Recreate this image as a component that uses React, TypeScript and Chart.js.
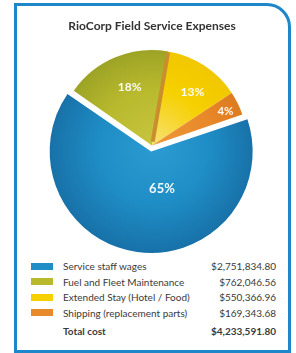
import React, { useEffect, useRef } from "react";
import { Chart, registerables } from "chart.js";

Chart.register(...registerables);

const chartTitle = "RioCorp Field Service Expenses";
const categories = [
  "Service staff wages",
  "Fuel and Fleet Maintenance",
  "Extended Stay (Hotel / Food)",
  "Shipping (replacement parts)",
];
const costs = [2751834.8, 762046.56, 550366.96, 169343.68];
const totalLabel = "Total cost";
const totalCost = 4233591.8;

const sliceColors = ["#1f8ec6", "#b9b92e", "#f6d000", "#e8892a"];
const sliceLight = ["#2c9bd1", "#c6c53e", "#f7df66", "#ee9738"];
const sliceDark = ["#176ea5", "#949d22", "#f0c400", "#da781c"];

const labelRadius = [0.41, 0.65, 0.7, 0.85];
const labelNudgeDeg = [-24, 1.5, 4, 1];
const labelSize = [13, 12, 12, 11.5];

const FONT = "Lato, 'Open Sans', sans-serif";

function money(v: number) {
  return "$" + v.toLocaleString("en-US", { minimumFractionDigits: 2, maximumFractionDigits: 2 });
}

const labelPlugin = {
  id: "sliceLabels",
  afterDatasetsDraw(chart: any) {
    const ctx = chart.ctx;
    const meta = chart.getDatasetMeta(0);
    const data = chart.data.datasets[0].data as number[];
    const sum = data.reduce((a, b) => a + b, 0);
    ctx.save();
    // 3D edge stripe on the yellow slice's leading side
    const y = meta.data[2];
    if (y) {
      const p = y.getProps(["x", "y", "startAngle", "outerRadius"], true);
      ctx.strokeStyle = "#c98f2e";
      ctx.lineWidth = 4;
      ctx.beginPath();
      ctx.moveTo(p.x + Math.cos(p.startAngle) * 4, p.y + Math.sin(p.startAngle) * 4);
      ctx.lineTo(p.x + Math.cos(p.startAngle) * (p.outerRadius - 1), p.y + Math.sin(p.startAngle) * (p.outerRadius - 1));
      ctx.stroke();
    }
    meta.data.forEach((arc: any, i: number) => {
      const p = arc.getProps(["x", "y", "startAngle", "endAngle", "outerRadius"], true);
      const mid = (p.startAngle + p.endAngle) / 2;
      const off = (arc.options.offset || 0) / 4;
      const a = mid + (labelNudgeDeg[i] * Math.PI) / 180;
      const r = p.outerRadius * labelRadius[i];
      const lx = p.x + Math.cos(mid) * off + Math.cos(a) * r;
      const ly = p.y + Math.sin(mid) * off + Math.sin(a) * r;
      const pct = Math.round((data[i] / sum) * 100) + "%";
      ctx.font = `bold ${labelSize[i]}px ${FONT}`;
      ctx.fillStyle = "rgba(255,255,255,0.95)";
      ctx.textAlign = "center";
      ctx.textBaseline = "middle";
      ctx.fillText(pct, lx, ly);
    });
    ctx.restore();
  },
};

function sliceFill(context: any) {
  const i = context.dataIndex;
  const chart = context.chart;
  const area = chart.chartArea;
  if (!area) return sliceColors[i];
  const cx = (area.left + area.right) / 2;
  const cy = (area.top + area.bottom) / 2;
  const R = Math.min(area.right - area.left, area.bottom - area.top) / 2;
  const g = chart.ctx.createRadialGradient(cx + R * 0.05, cy - R * 0.05, 0, cx, cy, R * 1.0);
  g.addColorStop(0, sliceLight[i]);
  g.addColorStop(0.5, sliceColors[i]);
  g.addColorStop(1, sliceDark[i]);
  return g;
}

function PieChart() {
  const ref = useRef<HTMLCanvasElement>(null);
  useEffect(() => {
    if (!ref.current) return;
    const chart = new Chart(ref.current, {
      type: "pie",
      data: {
        labels: categories,
        datasets: [
          {
            data: costs,
            backgroundColor: sliceFill as any,
            borderWidth: 0,
            offset: [24, 0, 0, 0],
            hoverOffset: 0,
          },
        ],
      },
      options: {
        responsive: false,
        animation: false,
        rotation: 71,
        layout: { padding: { left: 44.5, right: 36.5, top: 0, bottom: 7 } },
        plugins: {
          legend: { display: false },
          tooltip: { enabled: false },
          title: {
            display: true,
            text: chartTitle,
            color: "#333333",
            font: { family: FONT, size: 12, weight: "bold" },
            padding: { top: 19, bottom: 4.6 },
          },
        },
      },
      plugins: [labelPlugin],
    });
    return () => chart.destroy();
  }, []);
  return (
    <canvas
      ref={ref}
      width={296}
      height={260}
      style={{ position: "absolute", left: 0, top: 0, width: 296, height: 260 }}
    />
  );
}

const rowTops = [266, 281.5, 297, 312.5];
const totalTop = 330.5;

export default function App() {
  const textStyle: React.CSSProperties = {
    position: "absolute",
    fontFamily: FONT,
    fontSize: 10,
    lineHeight: "12px",
    color: "#3a3a3a",
    whiteSpace: "nowrap",
  };
  return (
    <div style={{ position: "absolute", left: 0, top: 0, width: 296, height: 353, background: "#fff", overflow: "hidden" }}>
      <div
        style={{
          position: "absolute",
          left: 14,
          top: 3,
          width: 277,
          height: 350,
          boxSizing: "border-box",
          border: "3px solid #1d87c9",
          borderTopRightRadius: 24,
        }}
      />
      <PieChart />
      {categories.map((c, i) => (
        <React.Fragment key={c}>
          <div
            style={{
              position: "absolute",
              left: 31,
              top: rowTops[i] - 3.5,
              width: 22,
              height: 7,
              background: sliceColors[i],
            }}
          />
          <div style={{ ...textStyle, left: 63, top: rowTops[i] - 6 }}>{c}</div>
          <div style={{ ...textStyle, right: 296 - 276, top: rowTops[i] - 6, textAlign: "right" }}>{money(costs[i])}</div>
        </React.Fragment>
      ))}
      <div style={{ ...textStyle, left: 63, top: totalTop - 6, fontWeight: "bold" }}>{totalLabel}</div>
      <div style={{ ...textStyle, right: 296 - 276, top: totalTop - 6, fontWeight: "bold", textAlign: "right" }}>
        {money(totalCost)}
      </div>
    </div>
  );
}
